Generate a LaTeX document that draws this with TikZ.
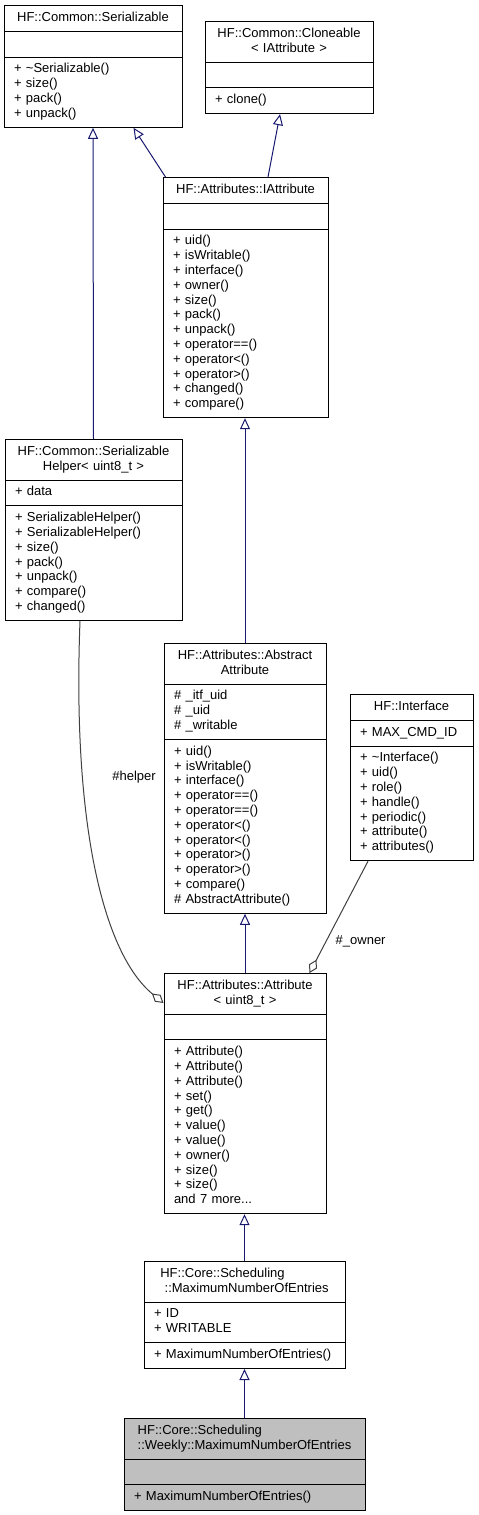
\documentclass[tikz,border=0pt]{standalone}
\usepackage{fontspec}
\setmainfont{Liberation Sans}
\usetikzlibrary{arrows.meta,shapes.multipart,calc}
\definecolor{inhblue}{HTML}{191970}
\definecolor{aggrey}{HTML}{404040}
\definecolor{curgrey}{HTML}{BFBFBF}
\newcommand{\clstitle}[2][c]{\hbox to\hsize{\hss\begin{tabular}{@{}#1@{}}#2\end{tabular}\hss}}

\begin{document}
\begin{tikzpicture}[x=1pt,y=-1pt,line width=1pt,font=\fontsize{13}{14.8}\selectfont,
  cls/.style={draw,rectangle split,rectangle split parts=3,anchor=north,
    inner xsep=10pt,inner ysep=5pt,text width=#1,align=left},
  inh/.style={inhblue,-{Triangle[open,length=11pt,width=10pt]}},
  agg/.style={aggrey,{Diamond[open,length=15pt,width=9pt]}-}]
\path[use as bounding box,fill=white] (0,0) rectangle (479,1515);
% base classes
\node[cls=158] (ser) at (93,5) {\clstitle{HF::Common::Serializable}
  \nodepart{two}\strut
  \nodepart{three}\strut + \textasciitilde Serializable()\\+ size()\\+ pack()\\+ unpack()\strut};
\node[cls=148] (clone) at (289,21) {\clstitle{HF::Common::Cloneable\\< IAttribute >}
  \nodepart{two}\strut
  \nodepart{three}\strut + clone()\strut};
\node[cls=145] (iattr) at (245.5,177) {\clstitle{HF::Attributes::IAttribute}
  \nodepart{two}\strut
  \nodepart{three}\strut + uid()\\+ isWritable()\\+ interface()\\+ owner()\\+ size()\\+ pack()\\+ unpack()\\+ operator==()\\+ operator<()\\+ operator>()\\+ changed()\\+ compare()\strut};
\node[cls=157] (serh) at (93.5,439) {\clstitle{HF::Common::Serializable\\Helper< uint8\_t >}
  \nodepart{two}\strut + data\strut
  \nodepart{three}\strut + SerializableHelper()\\+ SerializableHelper()\\+ size()\\+ pack()\\+ unpack()\\+ compare()\\+ changed()\strut};
\node[cls=142] (abstr) at (245,643) {\clstitle{HF::Attributes::Abstract\\Attribute}
  \nodepart{two}\strut \# \_itf\_uid\\\# \_uid\\\# \_writable\strut
  \nodepart{three}\strut + uid()\\+ isWritable()\\+ interface()\\+ operator==()\\+ operator==()\\+ operator<()\\+ operator<()\\+ operator>()\\+ operator>()\\+ compare()\\\# AbstractAttribute()\strut};
\node[cls=103] (iface) at (411.5,694) {\clstitle{HF::Interface}
  \nodepart{two}\strut + MAX\_CMD\_ID\strut
  \nodepart{three}\strut + \textasciitilde Interface()\\+ uid()\\+ role()\\+ handle()\\+ periodic()\\+ attribute()\\+ attributes()\strut};
% derived classes
\node[cls=142] (attr) at (245,973) {\clstitle{HF::Attributes::Attribute\\< uint8\_t >}
  \nodepart{two}\strut
  \nodepart{three}\strut + Attribute()\\+ Attribute()\\+ Attribute()\\+ set()\\+ get()\\+ value()\\+ value()\\+ owner()\\+ size()\\+ size()\\and 7 more...\strut};
\node[cls=181] (maxn) at (244.5,1261) {\clstitle[l]{HF::Core::Scheduling\\\ ::MaximumNumberOfEntries}
  \nodepart{two}\strut + ID\\+ WRITABLE\strut
  \nodepart{three}\strut + MaximumNumberOfEntries()\strut};
\node[cls=221,fill=curgrey] (weekly) at (244.5,1418) {\clstitle[l]{HF::Core::Scheduling\\::Weekly::MaximumNumberOfEntries}
  \nodepart{two}\strut
  \nodepart{three}\strut + MaximumNumberOfEntries()\strut};
% inheritance
\draw[inh] (serh.north) -- (ser.south);
\draw[inh] ($(iattr.north west)+(3,0)$) -- ($(ser.south east)+(-49,0)$);
\draw[inh] ($(iattr.north)+(22.5,0)$) -- ($(clone.south)+(-9,0)$);
\draw[inh] (abstr.north) -- (abstr.north |- iattr.south);
\draw[inh] (attr.north) -- (abstr.south);
\draw[inh] (maxn.north) -- (maxn.north |- attr.south);
\draw[inh] (weekly.north) -- (maxn.south);
% usage
\draw[agg] ($(attr.north west)+(0,30)$) .. controls (105,955) and (72,830) .. node[pos=.72,right=26pt,text=black]{\#helper} ($(serh.south)+(-13.5,0)$);
\draw[agg] ($(attr.north east)+(-17,0)$) -- node[pos=.28,right=6pt,text=black]{\#\_owner} ($(iface.south)+(-43.5,0)$);
\end{tikzpicture}
\end{document}
